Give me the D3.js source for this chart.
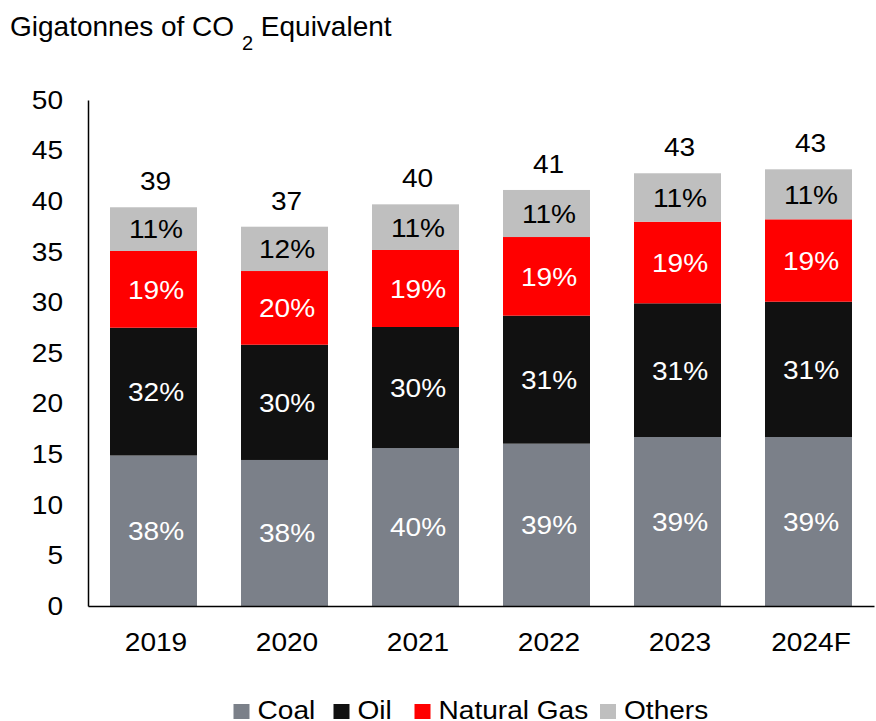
<!DOCTYPE html>
<html><head><meta charset="utf-8">
<script src="https://cdn.jsdelivr.net/npm/d3@7"></script>
<style>body{margin:0;background:#fff}text{font-family:"Liberation Sans",Arial,sans-serif}</style>
</head><body><svg id="c" width="876" height="721"></svg>
<script>
const years = ["2019","2020","2021","2022","2023","2024F"];
const seriesNames = ["Coal","Oil","Natural Gas","Others"];
const coal   = [14.87,14.43,15.61,16.04,16.70,16.70];
const oil    = [12.63,11.39,11.96,12.65,13.21,13.37];
const gas    = [7.58,7.28,7.61,7.77,8.06,8.14];
const others = [4.32,4.38,4.51,4.65,4.79,4.94];
const coalPct   = ["38%","38%","40%","39%","39%","39%"];
const oilPct    = ["32%","30%","30%","31%","31%","31%"];
const gasPct    = ["19%","20%","19%","19%","19%","19%"];
const othersPct = ["11%","12%","11%","11%","11%","11%"];
const totals = ["39","37","40","41","43","43"];
const yTicks = [0,5,10,15,20,25,30,35,40,45,50];

const colors = ["#7b8089","#111111","#ff0000","#bfbfbf"];
const labelColors = ["#ffffff","#ffffff","#ffffff","#000000"];
const vals = [coal, oil, gas, others];
const pcts = [coalPct, oilPct, gasPct, othersPct];
const SX = 1.08, FS = 26, SHIFT = 2.5;

const svg = d3.select("#c");
const x = d3.scaleBand().domain(years).range([88, 874]).paddingInner(0.336).paddingOuter(0.168);
const y = d3.scaleLinear().domain([0,50]).range([606,100]);

const rows = years.map((yr,i)=>{const o={year:yr,i}; seriesNames.forEach((s,k)=>o[s]=vals[k][i]); return o;});
const stacked = d3.stack().keys(seriesNames)(rows);

const g = svg.append("g");
stacked.forEach((layer,k)=>{
  g.selectAll(null).data(layer).enter().append("rect")
    .attr("x", d=>x(d.data.year)).attr("width", x.bandwidth())
    .attr("y", d=>y(d[1])).attr("height", d=>y(d[0])-y(d[1]))
    .attr("fill", colors[k]);
  g.selectAll(null).data(layer).enter().append("text")
    .attr("transform", d=>`translate(${x(d.data.year)+x.bandwidth()/2+SHIFT},${(y(d[0])+y(d[1]))/2}) scale(${SX},1)`)
    .attr("dy","0.36em").attr("text-anchor","middle")
    .attr("font-size",FS).attr("fill", labelColors[k])
    .text((d,i)=>pcts[k][i]);
});
// totals
const topLayer = stacked[stacked.length-1];
g.selectAll(null).data(topLayer).enter().append("text")
  .attr("transform", d=>`translate(${x(d.data.year)+x.bandwidth()/2+SHIFT-0.5},${y(d[1])-17}) scale(${SX},1)`)
  .attr("text-anchor","middle").attr("font-size",FS).attr("fill","#000")
  .text((d,i)=>totals[i]);

// axes
const ya = svg.append("g").attr("transform","translate(88,0)")
  .call(d3.axisLeft(y).tickValues(yTicks).tickSize(0).tickPadding(25));
ya.select(".domain").attr("stroke","#000").attr("stroke-width",1.5);
ya.selectAll("text").attr("font-size",FS).attr("fill","#000").attr("font-family","Liberation Sans, Arial, sans-serif")
  .attr("x", -25/SX).attr("transform",`scale(${SX},1)`);

const xa = svg.append("g").attr("transform","translate(0,606)")
  .call(d3.axisBottom(x).tickSize(0).tickPadding(27));
xa.select(".domain").attr("stroke","#000").attr("stroke-width",1.5);
xa.selectAll("text").attr("font-size",FS).attr("fill","#000").attr("font-family","Liberation Sans, Arial, sans-serif")
  .attr("x", SHIFT/SX).attr("transform",`scale(${SX},1)`);

// title
const t = svg.append("text").attr("x",10).attr("y",36).attr("font-size",28).attr("fill","#000");
t.append("tspan").text("Gigatonnes of CO ");
t.append("tspan").attr("font-size",20).attr("dy",14).text("2");
t.append("tspan").attr("dy",-14).text(" Equivalent");

// legend
const legendX = [233.5, 333.5, 414.5, 600];
const leg = svg.append("g");
seriesNames.forEach((s,k)=>{
  leg.append("rect").attr("x",legendX[k]).attr("y",704).attr("width",16).attr("height",15).attr("fill",colors[k]);
  leg.append("text").attr("transform",`translate(${legendX[k]+24},718.5) scale(${SX},1)`)
    .attr("font-size",FS).attr("fill","#000").text(s);
});
</script></body></html>
